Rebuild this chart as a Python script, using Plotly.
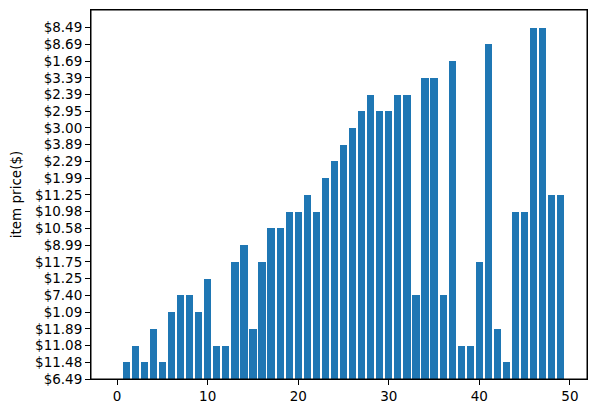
import plotly.graph_objects as go

item_index = list(range(50))
item_price = [
    "$6.49", "$11.48", "$11.08", "$11.48", "$11.89", "$11.48", "$1.09", "$7.40", "$7.40", "$1.09",
    "$1.25", "$11.08", "$11.08", "$11.75", "$8.99", "$11.89", "$11.75", "$10.58", "$10.58", "$10.98",
    "$10.98", "$11.25", "$10.98", "$1.99", "$2.29", "$3.89", "$3.00", "$2.95", "$2.39", "$2.95",
    "$2.95", "$2.39", "$2.39", "$7.40", "$3.39", "$3.39", "$7.40", "$1.69", "$11.08", "$11.08",
    "$11.75", "$8.69", "$11.89", "$11.48", "$10.98", "$10.98", "$8.49", "$8.49", "$11.25", "$11.25",
]

# categorical axis: order of first appearance
categories = []
for p in item_price:
    if p not in categories:
        categories.append(p)
cat_pos = [categories.index(p) for p in item_price]

fig = go.Figure(go.Bar(
    x=item_index, y=cat_pos, width=0.8,
    marker=dict(color="#1f77b4", line=dict(width=0)),
))

font = dict(family="DejaVu Sans", size=13.5, color="#000000")
axis_common = dict(
    showgrid=False, zeroline=False, showline=True, linecolor="black", linewidth=1,
    mirror=True, ticks="outside", ticklen=5, tickcolor="black", tickfont=font,
    automargin=False,
)
fig.update_layout(
    width=600, height=409,
    margin=dict(l=91, r=13, t=10, b=30, autoexpand=False),
    plot_bgcolor="white", paper_bgcolor="white",
    showlegend=False,
    bargap=0,
    xaxis=dict(range=[-2.89, 51.89], tickvals=[0, 10, 20, 30, 40, 50], **axis_common),
    yaxis=dict(range=[0, 22.05], tickvals=list(range(len(categories))), ticktext=categories,
               title=dict(text="item price($)", font=font, standoff=10), **axis_common),
)
fig.add_shape(type="rect", xref="paper", yref="paper", x0=0, y0=0, x1=1, y1=1,
              line=dict(color="black", width=1), fillcolor="rgba(0,0,0,0)", layer="above")
fig.write_html("out.html", config={"displayModeBar": False},
               post_script="document.body.style.margin='0';document.body.style.overflow='hidden';")
